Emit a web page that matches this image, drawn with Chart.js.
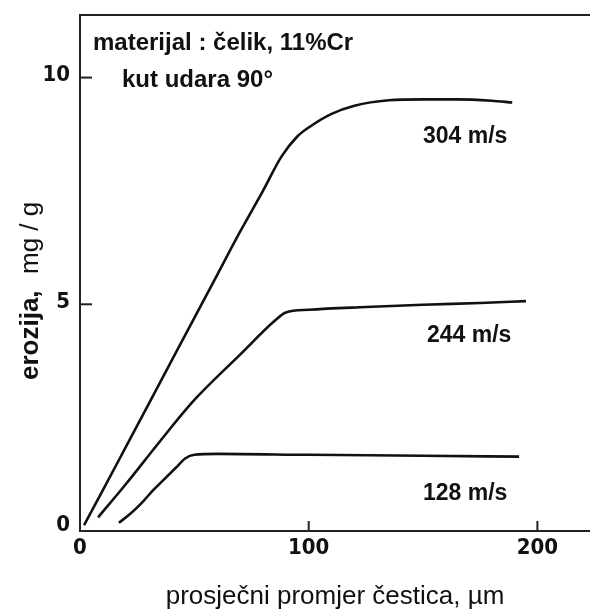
<!DOCTYPE html>
<html>
<head>
<meta charset="utf-8">
<script src="https://cdn.jsdelivr.net/npm/chart.js@4"></script>
<style>
html,body{margin:0;padding:0;background:#fff;}
#wrap{width:590px;height:612px;position:relative;}
</style>
</head>
<body>
<div id="wrap"><canvas id="c" width="590" height="612"></canvas></div>
<script>
// ---- data ----
const xTicks = [0, 100, 200];
const yTicks = [0, 5, 10];
const seriesNames = ["304 m/s", "244 m/s", "128 m/s"];
const x304 = [1.8, 10, 20, 30, 40, 50, 60, 70, 80, 88, 95, 100, 110, 120, 135, 150, 165, 180, 189];
const y304 = [0.13, 0.9, 1.85, 2.8, 3.75, 4.7, 5.65, 6.6, 7.5, 8.25, 8.7, 8.9, 9.2, 9.38, 9.5, 9.52, 9.52, 9.49, 9.45];
const x244 = [7.9, 20, 35, 50, 70, 85, 90, 100, 125, 150, 175, 195];
const y244 = [0.3, 1.03, 1.98, 2.89, 3.89, 4.63, 4.82, 4.88, 4.94, 4.99, 5.03, 5.07];
const x128 = [17, 22, 27, 32, 37, 42, 46, 50, 60, 100, 150, 192];
const y128 = [0.18, 0.38, 0.62, 0.9, 1.15, 1.4, 1.6, 1.68, 1.7, 1.68, 1.66, 1.64];
const notes = ["materijal : čelik, 11%Cr", "kut udara 90°"];
const xTitle = "prosječni promjer čestica, µm";
const yTitleBold = "erozija,";
const yTitleUnit = "mg / g";

function pts(xs, ys){ return xs.map((x,i)=>({x:x, y:ys[i]})); }

const labelPos = {
  "304 m/s": [423, 143],
  "244 m/s": [427, 342],
  "128 m/s": [423, 500]
};

const decor = {
  id: 'decor',
  afterDraw(chart){
    const ctx = chart.ctx;
    const xs = chart.scales.x, ys = chart.scales.y;
    const ca = chart.chartArea;
    ctx.save();
    ctx.strokeStyle = '#222';
    ctx.lineWidth = 2;
    // top border
    ctx.beginPath();
    ctx.moveTo(ca.left, ca.top);
    ctx.lineTo(ca.right, ca.top);
    ctx.stroke();
    // inward ticks
    xTicks.forEach(v=>{
      if (v===0) return;
      const px = xs.getPixelForValue(v);
      ctx.beginPath(); ctx.moveTo(px, ca.bottom); ctx.lineTo(px, ca.bottom-10); ctx.stroke();
    });
    yTicks.forEach(v=>{
      if (v===0) return;
      const py = ys.getPixelForValue(v);
      ctx.beginPath(); ctx.moveTo(ca.left, py); ctx.lineTo(ca.left+12, py); ctx.stroke();
    });
    // tick labels
    ctx.fillStyle = '#111';
    ctx.font = 'bold 22px "Liberation Sans Narrow", "DejaVu Sans Condensed", sans-serif';
    ctx.textAlign = 'center'; ctx.textBaseline = 'middle';
    xTicks.forEach(v=>{
      ctx.fillText(String(v), xs.getPixelForValue(v), 548);
    });
    ctx.textAlign = 'right';
    yTicks.forEach(v=>{
      const py = ys.getPixelForValue(v);
      ctx.fillText(String(v), 70, v===0 ? py-6 : py-2);
    });
    // notes
    ctx.textAlign = 'left'; ctx.textBaseline = 'alphabetic';
    ctx.font = 'bold 24px "Liberation Sans", Arial, sans-serif';
    ctx.fillText(notes[0], 93, 50);
    ctx.font = 'bold 24px "Liberation Sans", Arial, sans-serif';
    ctx.fillText(notes[1], 122, 87);
    // series labels
    ctx.font = 'bold 23px "Liberation Sans", Arial, sans-serif';
    seriesNames.forEach(n=>{
      const p = labelPos[n];
      ctx.fillText(n, p[0], p[1]);
    });
    // x title
    ctx.textAlign = 'center';
    ctx.font = '26px "Liberation Sans", Arial, sans-serif';
    ctx.fillText(xTitle, 335, 604);
    // y title
    ctx.save();
    ctx.translate(38, 380);
    ctx.rotate(-Math.PI/2);
    ctx.textAlign = 'left';
    ctx.font = 'bold 26px "Liberation Sans", Arial, sans-serif';
    ctx.fillText(yTitleBold, 0, 0);
    ctx.font = '26px "Liberation Sans", Arial, sans-serif';
    ctx.fillText(yTitleUnit, 106, 0);
    ctx.restore();
    ctx.restore();
  }
};

const mk = (xs, ysv, name) => ({
  label: name,
  data: pts(xs, ysv),
  borderColor: '#111',
  borderWidth: 2.6,
  pointRadius: 0,
  fill: false,
  cubicInterpolationMode: 'monotone',
  tension: 0.4
});

new Chart(document.getElementById('c'), {
  type: 'line',
  data: {
    datasets: [mk(x304, y304, seriesNames[0]), mk(x244, y244, seriesNames[1]), mk(x128, y128, seriesNames[2])]
  },
  options: {
    responsive: false,
    animation: false,
    devicePixelRatio: 1,
    layout: { padding: { left: 80, top: 15, right: 0, bottom: 81 } },
    plugins: { legend: { display: false }, tooltip: { enabled: false }, title: { display: false } },
    scales: {
      x: {
        type: 'linear', min: 0, max: 223,
        grid: { display: false, drawTicks: false },
        border: { display: true, color: '#222', width: 2 },
        ticks: { display: false },
        afterBuildTicks: s => { s.ticks = xTicks.map(v=>({value:v})); }
      },
      y: {
        type: 'linear', min: 0, max: 11.38,
        grid: { display: false, drawTicks: false },
        border: { display: true, color: '#222', width: 2 },
        ticks: { display: false },
        afterBuildTicks: s => { s.ticks = yTicks.map(v=>({value:v})); }
      }
    }
  },
  plugins: [decor]
});
</script>
</body>
</html>
